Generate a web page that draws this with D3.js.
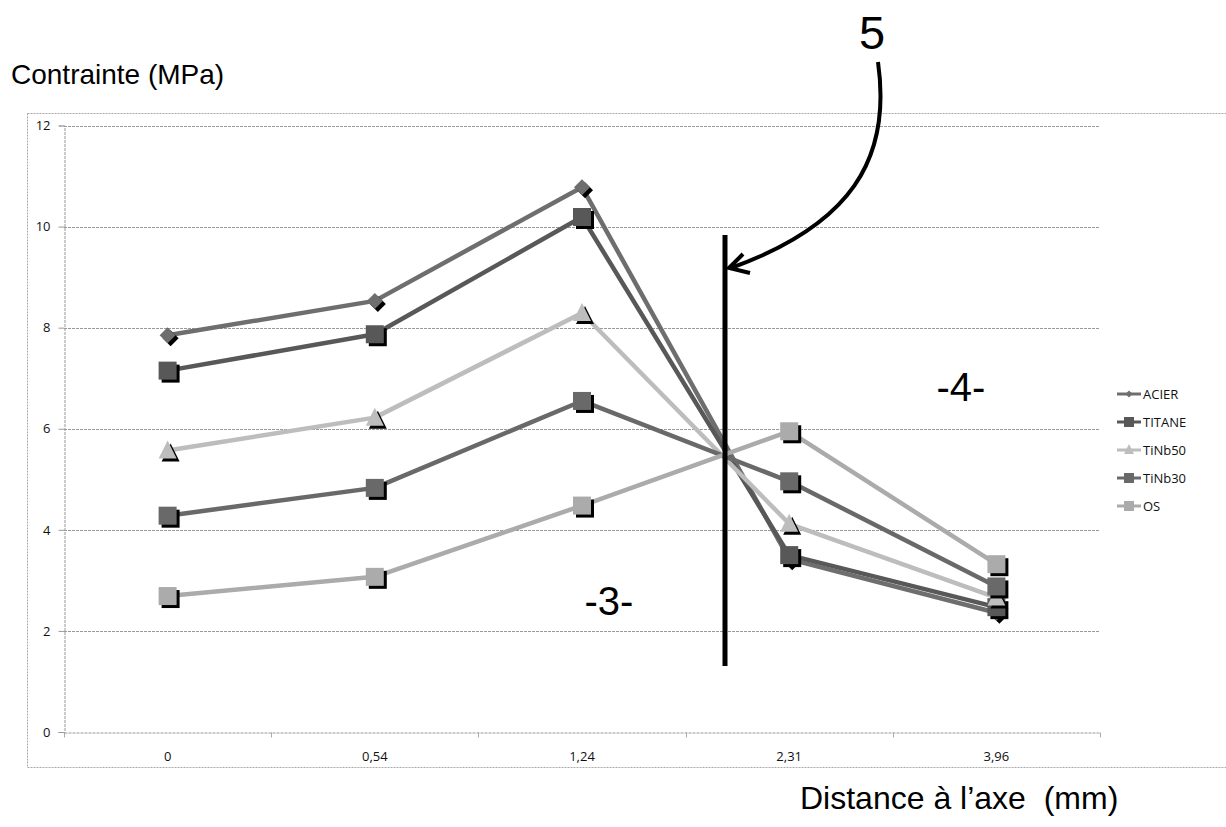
<!DOCTYPE html>
<html><head><meta charset="utf-8">
<script src="https://cdn.jsdelivr.net/npm/d3@7"></script>
<style>body{margin:0;background:#fff}svg{display:block}</style>
</head><body>
<script>
const categories = ["0", "0,54", "1,24", "2,31", "3,96"];
const yTicks = [0, 2, 4, 6, 8, 10, 12];
const seriesNames = ["ACIER", "TITANE", "TiNb50", "TiNb30", "OS"];
const acier  = [7.85, 8.53, 10.78, 3.42, 2.36];
const titane = [7.15, 7.87, 10.19, 3.50, 2.47];
const tinb50 = [5.57, 6.22, 8.29, 4.12, 2.66];
const tinb30 = [4.28, 4.83, 6.55, 4.96, 2.88];
const os     = [2.69, 3.07, 4.48, 5.95, 3.32];
const seriesValues = [acier, titane, tinb50, tinb30, os];
const seriesColors = ["#6e6e6e", "#585858", "#bdbdbd", "#696969", "#ababab"];
const seriesShapes = ["diamond", "square", "triangle", "square", "square"];

const W = 1226, H = 827;
const svg = d3.select("body").append("svg").attr("width", W).attr("height", H);
const m = {left: 64, right: 1100, top: 125.5, bottom: 732};

// outer border
svg.append("rect").attr("x", 27.5).attr("y", 113.5).attr("width", 1210).attr("height", 654)
  .attr("fill", "none").attr("stroke", "#aaa").attr("stroke-dasharray", "2,1");

const x = d3.scaleBand().domain(categories).range([m.left, m.right]);
const y = d3.scaleLinear().domain([0, 12]).range([m.bottom, m.top]);

// gridlines
svg.append("g").selectAll("line").data(yTicks.filter(d => d > 0)).join("line")
  .attr("x1", m.left).attr("x2", m.right)
  .attr("y1", d => Math.round(y(d)) + 0.5).attr("y2", d => Math.round(y(d)) + 0.5)
  .attr("stroke", "#999").attr("stroke-dasharray", "3,1");

const tf = "'Open Sans', sans-serif";
// y axis
const ya = svg.append("g").attr("transform", `translate(${m.left + 0.5},0)`)
  .call(d3.axisLeft(y).tickValues(yTicks).tickSize(6).tickPadding(8));
ya.select(".domain").attr("stroke", "#999").attr("stroke-dasharray", "3,1");
ya.selectAll(".tick line").attr("stroke", "#999");
ya.selectAll("text").attr("font-family", tf).attr("font-size", 13).attr("fill", "#111");

// x axis
const xa = svg.append("g").attr("transform", `translate(0,${Math.round(m.bottom) + 0.5})`)
  .call(d3.axisBottom(x).tickSize(0).tickPadding(19));
xa.select(".domain").attr("stroke", "#999").attr("stroke-dasharray", "3,1");
xa.selectAll("text").attr("font-family", tf).attr("font-size", 13).attr("fill", "#111");
// category boundary ticks
const bounds = categories.map(c => x(c)).concat([m.right]);
xa.append("g").selectAll("line").data(bounds).join("line")
  .attr("x1", d => Math.round(d) + 0.5).attr("x2", d => Math.round(d) + 0.5)
  .attr("y1", 0).attr("y2", 5).attr("stroke", "#aaa");

const cx = c => x(c) + x.bandwidth() / 2;
const line = d3.line().x((d, i) => cx(categories[i])).y(d => y(d));

function shapePath(shape, s) {
  if (shape === "diamond") return `M0,${-s}L${s},0L0,${s}L${-s},0Z`;
  if (shape === "triangle") return `M0,${-s - 1}L${s},${s - 1}L${-s},${s - 1}Z`;
  return `M${-s},${-s}H${s}V${s}H${-s}Z`;
}
function marker(g, shape, px, py, fill) {
  const s = shape === "diamond" ? 8 : 9;
  const path = shapePath(shape, s);
  g.append("path").attr("d", path).attr("transform", `translate(${px + 3},${py + 3})`).attr("fill", "#000");
  g.append("path").attr("d", path).attr("transform", `translate(${px},${py})`).attr("fill", fill);
}

// series lines
seriesValues.forEach((vals, k) => {
  svg.append("path").datum(vals).attr("d", line)
    .attr("fill", "none").attr("stroke", seriesColors[k]).attr("stroke-width", 4.5)
    .attr("stroke-linejoin", "round");
});
seriesValues.forEach((vals, k) => {
  const g = svg.append("g");
  vals.forEach((v, i) => marker(g, seriesShapes[k], cx(categories[i]), y(v), seriesColors[k]));
});

// legend
const lg = svg.append("g");
seriesNames.forEach((n, k) => {
  const ly = 394 + k * 28;
  lg.append("line").attr("x1", 1117).attr("x2", 1141).attr("y1", ly).attr("y2", ly)
    .attr("stroke", seriesColors[k]).attr("stroke-width", 3);
  const s = seriesShapes[k] === "diamond" ? 3.5 : 5;
  lg.append("path").attr("d", shapePath(seriesShapes[k], s)).attr("transform", `translate(1129,${ly})`).attr("fill", seriesColors[k]);
  lg.append("text").attr("x", 1143).attr("y", ly).attr("dy", "0.35em")
    .attr("font-family", tf).attr("font-size", 13).attr("fill", "#111").text(n);
});

// annotations
svg.append("line").attr("x1", 725).attr("x2", 725).attr("y1", 235).attr("y2", 666)
  .attr("stroke", "#000").attr("stroke-width", 5);
svg.append("path").attr("d", "M878,62 C892,160 850,225 731,268")
  .attr("fill", "none").attr("stroke", "#000").attr("stroke-width", 4);
svg.append("path").attr("d", "M743,254 L729,268 L750,273")
  .attr("fill", "none").attr("stroke", "#000").attr("stroke-width", 4).attr("stroke-linejoin", "miter");

const af = "'Liberation Sans', Arial, sans-serif";
svg.append("text").attr("x", 872).attr("y", 49).attr("text-anchor", "middle")
  .attr("font-family", af).attr("font-size", 47).text("5");
svg.append("text").attr("x", 609).attr("y", 615).attr("text-anchor", "middle")
  .attr("font-family", af).attr("font-size", 40).text("-3-");
svg.append("text").attr("x", 961).attr("y", 401).attr("text-anchor", "middle")
  .attr("font-family", af).attr("font-size", 40).text("-4-");
svg.append("text").attr("x", 11).attr("y", 84)
  .attr("font-family", af).attr("font-size", 28).text("Contrainte (MPa)");
svg.append("text").attr("x", 800).attr("y", 809).attr("xml:space", "preserve")
  .attr("font-family", af).attr("font-size", 32).text("Distance à l’axe  (mm)");
</script>
</body></html>
